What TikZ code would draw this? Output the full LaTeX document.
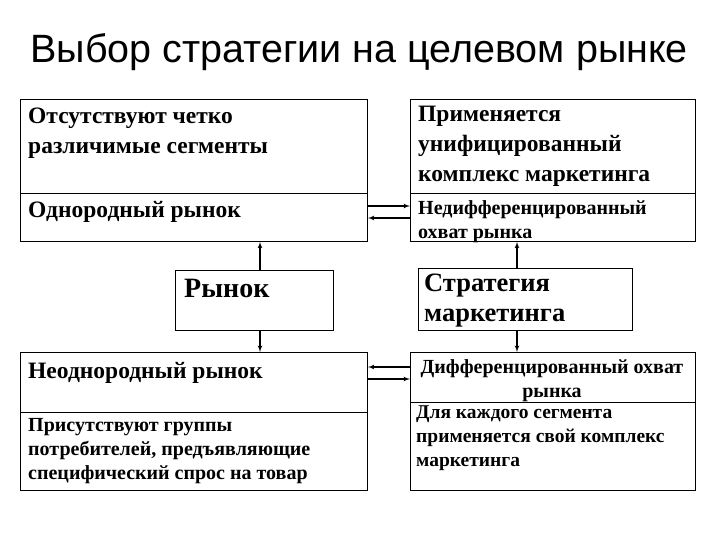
\documentclass[tikz,border=0pt]{standalone}
\usepackage{fontspec}
\setmainfont{Liberation Serif}
\newfontfamily\titlefont{Liberation Sans}
\usetikzlibrary{arrows,calc}
\tikzstyle{box} = [draw, line width=0.8pt, inner sep=0pt, anchor=north west]
\tikzstyle{txt} = [anchor=north west, align=left, inner sep=0pt, font=\fontsize{23.5}{30}\selectfont\bfseries]
\tikzstyle{arrow} = [draw, line width=1.2pt, -latex']
\begin{document}
\begin{tikzpicture}[x=1pt, y=-1pt]
      \useasboundingbox (0,0) rectangle (720,540);
      \node at (27, 52) [anchor=west, font=\titlefont\fontsize{39.5}{44}\selectfont] (title) {Выбор стратегии на целевом рынке};

      % boxes
      \node (tl) at (20, 99) [box, minimum width=347pt, minimum height=142pt] {};
      \node (tr) at (410, 99) [box, minimum width=285pt, minimum height=142pt] {};
      \node (mk) at (175, 270) [box, minimum width=158pt, minimum height=60pt] {};
      \node (st) at (418, 268) [box, minimum width=214pt, minimum height=62pt] {};
      \node (bl) at (20, 352) [box, minimum width=347pt, minimum height=138pt] {};
      \node (br) at (410, 352) [box, minimum width=285pt, minimum height=138pt] {};
      \draw[line width=0.6pt] (20,193) -- (367,193);
      \draw[line width=0.6pt] (410,193) -- (695,193);
      \draw[line width=0.6pt] (20,412) -- (367,412);
      \draw[line width=0.6pt] (410,402) -- (695,402);

      % texts
      \node at (28, 108) [txt] {Отсутствуют четко\\различимые сегменты};
      \node at (28, 201) [txt] {Однородный рынок};
      \node at (418, 106) [txt] {Применяется\\унифицированный\\комплекс маркетинга};
      \node at (418, 200) [txt, font=\fontsize{20}{24}\selectfont\bfseries] {Недифференцированный\\охват рынка};
      \node at (184, 279) [txt, font=\fontsize{28}{32}\selectfont\bfseries] {Рынок};
      \node at (424, 274) [txt, font=\fontsize{26.5}{30}\selectfont\bfseries] {Стратегия\\маркетинга};
      \node at (28, 362) [txt] {Неоднородный рынок};
      \node at (28, 418) [txt, font=\fontsize{20}{24}\selectfont\bfseries] {Присутствуют группы\\потребителей, предъявляющие\\специфический спрос на товар};
      \node at (552, 359) [txt, anchor=north, align=center, font=\fontsize{20}{24}\selectfont\bfseries] {Дифференцированный охват\\рынка};
      \node at (416, 406) [txt, font=\fontsize{19.5}{24}\selectfont\bfseries] {Для каждого сегмента\\применяется свой комплекс\\маркетинга};

      % connectors
      \path[arrow] (mk.north -| 260,0) -- (tl.south -| 260,0);
      \path[arrow] (mk.south -| 260,0) -- (bl.north -| 260,0);
      \path[arrow] (st.north -| 517,0) -- (tr.south -| 517,0);
      \path[arrow] (st.south -| 517,0) -- (br.north -| 517,0);
      \path[arrow] (tl.east |- 0,206) -- (tr.west |- 0,206);
      \path[arrow] (tr.west |- 0,218) -- (tl.east |- 0,218);
      \path[arrow] (br.west |- 0,367) -- (bl.east |- 0,367);
      \path[arrow] (bl.east |- 0,379) -- (br.west |- 0,379);
\end{tikzpicture}
\end{document}
